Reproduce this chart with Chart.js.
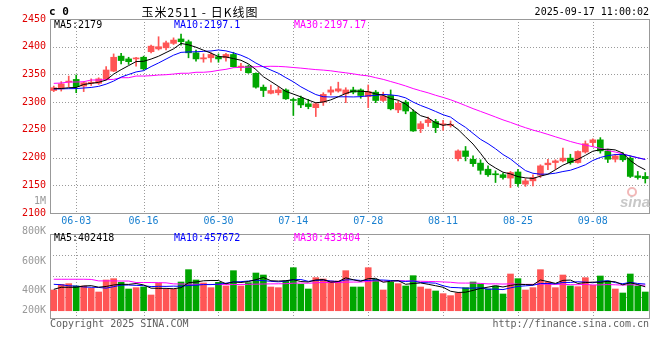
<!DOCTYPE html>
<html><head><meta charset="utf-8">
<script src="https://cdn.jsdelivr.net/npm/chart.js@4.4.1/dist/chart.umd.min.js"></script>
<style>
html,body{margin:0;padding:0;background:#fff;}
#wrap{position:relative;width:660px;height:360px;}
canvas{position:absolute;left:0;top:0;}
</style></head><body>
<div id="wrap"><canvas id="k" width="660" height="360"></canvas><canvas id="v" width="660" height="360"></canvas></div>
<script>
// ---------- data ----------
const dates = ['05-28','05-29','05-30','06-03','06-04','06-05','06-06','06-09','06-10','06-11','06-12','06-13',
 '06-16','06-17','06-18','06-19','06-20','06-23','06-24','06-25','06-26','06-27','06-30','07-01','07-02','07-03','07-04',
 '07-07','07-08','07-09','07-10','07-11','07-14','07-15','07-16','07-17','07-18','07-21','07-22','07-23','07-24','07-25',
 '07-28','07-29','07-30','07-31','08-01','08-04','08-05','08-06','08-07','08-08','08-11','08-12','08-13','08-14','08-15',
 '08-18','08-19','08-20','08-21','08-22','08-25','08-26','08-27','08-28','08-29','09-01','09-02','09-03','09-04','09-05',
 '09-08','09-09','09-10','09-11','09-12','09-15','09-16','09-17'];
const tickLabels = ['06-03','06-16','06-30','07-14','07-28','08-11','08-25','09-08'];

const open  = [2321,2324,2336,2341,2329,2334,2334,2341,2356,2383,2378,2378,2381,2391,2396,2398,2406,2414,2409,2389,
 2378,2380,2382,2380,2386,2363,2365,2352,2327,2316,2317,2322,2304,2307,2297,2290,2300,2318,2320,2315,
 2322,2322,2310,2318,2303,2312,2286,2300,2282,2252,2263,2265,2259,2258,2198,2212,2197,2190,2179,2170,
 2169,2163,2174,2152,2158,2168,2187,2191,2194,2199,2191,2210,2227,2232,2212,2197,2206,2199,2167,2166];
const high  = [2329,2337,2347,2349,2337,2342,2344,2364,2387,2388,2381,2381,2383,2403,2418,2410,2416,2423,2412,2394,
 2387,2389,2387,2388,2390,2370,2367,2353,2331,2331,2328,2324,2307,2311,2305,2299,2317,2328,2336,2326,
 2327,2324,2331,2321,2318,2322,2302,2303,2286,2265,2273,2269,2267,2266,2214,2220,2203,2196,2185,2176,
 2172,2175,2179,2162,2169,2187,2197,2196,2217,2206,2212,2230,2234,2236,2215,2206,2209,2203,2175,2173];
const low   = [2319,2320,2328,2317,2319,2330,2332,2340,2355,2369,2368,2365,2358,2389,2394,2394,2404,2403,2380,2374,
 2372,2372,2372,2374,2363,2357,2352,2325,2310,2315,2313,2305,2276,2290,2288,2274,2294,2313,2318,2299,
 2315,2307,2290,2299,2301,2286,2281,2279,2247,2245,2256,2245,2249,2255,2194,2194,2184,2170,2166,2155,
 2161,2146,2148,2148,2149,2164,2178,2179,2192,2188,2190,2208,2220,2208,2191,2192,2193,2164,2161,2154];
const close = [2326,2333,2338,2328,2335,2336,2342,2358,2381,2375,2373,2379,2360,2401,2400,2407,2412,2409,2389,2378,
 2380,2386,2378,2386,2364,2365,2353,2327,2321,2321,2322,2306,2303,2295,2292,2297,2314,2322,2324,2322,
 2318,2312,2319,2303,2311,2288,2298,2284,2248,2261,2268,2254,2261,2259,2212,2202,2189,2177,2169,2169,
 2164,2173,2153,2158,2164,2185,2190,2194,2199,2191,2211,2225,2232,2212,2197,2203,2196,2166,2164,2162];

const ma5  = [2324.3,2324.6,2326.0,2326.5,2331.9,2333.9,2335.8,2339.9,2350.6,2358.6,2365.9,2373.2,2373.7,2377.7,2382.8,2389.5,2396.1,2405.9,2403.4,2399.1,
 2393.7,2388.5,2382.2,2381.5,2378.6,2375.6,2369.0,2358.8,2345.8,2337.2,2328.6,2319.3,2314.6,2309.5,2303.8,2298.8,2300.3,2304.1,2309.7,2315.6,
 2320.0,2319.5,2318.9,2314.7,2312.4,2306.3,2303.5,2296.5,2285.6,2275.6,2271.6,2262.8,2258.1,2260.4,2250.7,2237.4,2224.4,2207.7,2189.7,2181.2,
 2173.6,2170.5,2165.6,2163.4,2162.3,2166.5,2169.9,2178.0,2186.3,2191.9,2197.0,2203.9,2211.5,2214.1,2215.2,2213.8,2208.0,2194.7,2185.0,2178.0];
const ma10 = [2323.8,2324.0,2324.3,2324.5,2325.5,2326.5,2328.5,2332.5,2338.0,2345.2,2349.9,2354.5,2356.8,2364.2,2370.7,2377.7,2384.7,2389.8,2390.6,2390.9,
 2391.6,2392.3,2394.1,2392.5,2388.9,2384.7,2378.8,2370.5,2363.7,2357.9,2352.1,2344.2,2336.7,2327.7,2320.5,2313.7,2309.8,2309.3,2309.6,2309.7,
 2309.4,2309.9,2311.5,2312.2,2314.0,2313.1,2311.5,2307.7,2300.1,2294.0,2288.9,2283.2,2277.3,2273.0,2263.1,2254.5,2243.6,2232.9,2225.1,2215.9,
 2205.5,2197.5,2186.7,2176.5,2171.7,2170.0,2170.2,2171.8,2174.8,2177.1,2181.8,2186.9,2194.8,2200.2,2203.5,2205.4,2205.9,2203.1,2199.6,2196.6];
const ma30 = [2333.9,2334.5,2336.3,2336.3,2336.9,2339.9,2339.9,2340.5,2341.1,2344.1,2344.1,2347.1,2347.1,2347.7,2348.9,2349.5,2350.7,2352.1,2352.1,2353.9,
 2353.9,2355.0,2357.4,2359.2,2362.2,2362.8,2363.3,2363.8,2364.3,2364.7,2364.5,2363.7,2362.5,2361.4,2360.0,2358.7,2357.8,2356.5,2354.6,2352.9,
 2351.0,2348.8,2347.4,2344.1,2341.1,2337.2,2333.4,2329.2,2324.5,2320.5,2316.8,2312.4,2308.5,2304.3,2299.2,2293.8,2288.3,2283.3,2278.3,2273.2,
 2268.0,2263.5,2258.5,2253.9,2249.6,2245.9,2241.8,2237.5,2233.3,2229.0,2225.4,2222.5,2219.6,2216.6,2212.8,2210.0,2206.6,2202.6,2199.8,2196.5];

const volume = [404700,442900,447400,431700,431700,415900,391200,472100,481000,456300,411400,420400,424900,371000,451900,409200,409200,458600,541700,472100,
 451900,420400,456300,431700,534900,431700,454100,519200,505700,424900,420400,465300,555100,442900,411400,487800,478800,465300,465300,534900,
 424900,424900,555100,476600,404700,456300,447400,431700,501200,424900,411400,398000,380000,366600,384500,420400,458600,445100,411400,431700,
 377800,512500,481000,404700,420400,541700,458600,420400,505700,431700,427200,487800,436100,499000,465300,411400,384500,512500,431700,391200];
const volMa5  = [409,423,423,423,431.7,433.9,423.6,428.5,438.4,443.3,442.4,448.2,438.8,416.8,415.9,415.5,413.2,420.0,454.1,458.2,
 466.7,468.9,468.5,446.5,459.0,455.0,461.7,474.3,489.1,467.1,464.9,467.1,474.3,461.7,459.0,472.5,475.2,457.2,461.7,486.4,
 473.8,463.1,481.0,483.3,457.2,463.5,468.0,443.3,448.3,452.3,443.3,433.4,423.1,396.2,388.1,389.9,402.0,415.0,424.0,433.4,
 424.9,435.7,442.9,441.5,439.3,472.1,461.3,449.2,469.4,471.6,448.7,454.6,457.7,456.4,463.1,459.9,439.3,454.5,441.1,426.3];
const volMa10 = [443,440,433,431,425,423,422,417,427,437.5,438.2,435.9,433.7,427.6,429.6,428.9,430.7,429.4,435.5,437.0,
 441.1,441.1,444.2,450.3,458.6,460.9,465.3,471.4,467.8,463.1,459.9,464.4,474.3,475.4,463.1,468.7,471.2,465.8,461.7,472.7,
 473.2,469.1,469.1,472.5,471.8,468.7,465.5,462.2,465.8,454.8,453.4,450.7,433.2,422.2,420.2,416.6,417.7,419.1,410.1,410.8,
 407.4,418.9,429.0,432.8,436.4,448.5,448.5,446.0,455.5,455.5,460.4,457.9,453.4,462.9,467.4,454.3,446.9,456.1,448.7,444.7];
const volMa30 = [477,477,477,477,477,476,466,466,466,465,465,455,455,455,454,453,446,445,444,443,
 442,442,441,441,441,442,443,444,445,445.9,446.4,447.1,450.7,451.1,450.4,452.8,455.7,455.5,455.0,457.6,
 458.1,458.2,462.6,466.1,464.5,466.1,467.3,466.4,465.1,463.5,462.2,461.4,458.9,456.7,451.7,451.3,451.5,449.0,445.9,446.1,
 444.7,446.2,443.8,442.5,442.8,444.6,443.9,442.4,443.8,440.3,440.4,442.5,438.5,439.3,441.3,439.8,437.7,440.4,438.1,437.0];
const volTickValues = [800000,600000,400000,200000];

const titleText = '玉米2511 - 日K线图';
const stampText = '2025-09-17 11:00:02';
const priceLegend = ['MA5:2179','MA10:2197.1','MA30:2197.17'];
const volLegend = ['MA5:402418','MA10:457672','MA30:433404'];

// ---------- style ----------
const MONO = '"DejaVu Sans Mono", monospace';
const UP = '#ff5555', DOWN = '#00a600';
const C5 = '#000000', C10 = '#0000ff', C30 = '#ff00ff';
const GRID = '#9a9a9a', FRAME = '#999999';
const PRICE_MIN = 2100, PRICE_MAX = 2450, PRICE_STEP = 50;
const VOL_MIN = 216000, VOL_MAX = 782000, VOL_BASE = 265000;

Chart.defaults.font.family = MONO;
Chart.defaults.font.size = 10;

const isUp = i => close[i] >= open[i];
const colorOf = ctx => isUp(ctx.dataIndex) ? UP : DOWN;
const k1000 = a => a.map(v => v * 1000);

function txt(ctx, s, x, y, color, font, align) {
  ctx.font = font; ctx.fillStyle = color; ctx.textAlign = align || 'left';
  ctx.textBaseline = 'middle'; ctx.fillText(s, x, y);
}
function vGrid(ctx, chart) {
  const a = chart.chartArea, x = chart.scales.x;
  tickLabels.forEach(l => {
    const px = Math.round(x.getPixelForValue(dates.indexOf(l))) + 0.5;
    ctx.beginPath(); ctx.moveTo(px, a.top); ctx.lineTo(px, a.bottom); ctx.stroke();
  });
}

const priceDeco = {
  id: 'priceDeco',
  beforeDatasetsDraw(chart) {
    const {ctx, chartArea: a, scales: {y}} = chart;
    ctx.save();
    ctx.strokeStyle = GRID; ctx.lineWidth = 1; ctx.setLineDash([1, 2]);
    y.ticks.forEach(t => {
      if (t.value <= y.min || t.value >= y.max) return;
      const py = Math.round(y.getPixelForValue(t.value)) + 0.5;
      ctx.beginPath(); ctx.moveTo(a.left, py); ctx.lineTo(a.right, py); ctx.stroke();
    });
    vGrid(ctx, chart);
    ctx.setLineDash([]); ctx.strokeStyle = FRAME;
    ctx.strokeRect(a.left + 0.5, a.top + 0.5, a.width, a.height);
    ctx.restore();
  },
  afterDraw(chart) {
    const {ctx, chartArea: a} = chart;
    ctx.save();
    txt(ctx, 'c 0', a.left - 1, 12, '#000', 'bold 11px ' + MONO);
    ctx.letterSpacing = '1px';
    txt(ctx, titleText, 200, 12, '#000', '12px "Noto Sans CJK SC", sans-serif', 'center');
    ctx.letterSpacing = '0px';
    txt(ctx, stampText, a.right, 12, '#000', '10px ' + MONO, 'right');
    txt(ctx, priceLegend[0], a.left + 4, a.top + 6, C5, '10px ' + MONO);
    txt(ctx, priceLegend[1], a.left + 124, a.top + 6, C10, '10px ' + MONO);
    txt(ctx, priceLegend[2], a.left + 244, a.top + 6, C30, '10px ' + MONO);
    txt(ctx, '1M', a.left - 4, a.bottom - 12, '#999', '10px ' + MONO, 'right');
    // sina watermark
    ctx.strokeStyle = '#f2b8b8'; ctx.lineWidth = 2;
    ctx.beginPath(); ctx.arc(a.right - 17, a.bottom - 21, 4, 0, Math.PI * 2); ctx.stroke();
    ctx.font = 'italic bold 15px "Liberation Sans", sans-serif'; ctx.fillStyle = '#c8c8c8';
    ctx.textAlign = 'right'; ctx.textBaseline = 'alphabetic';
    ctx.fillText('sina', a.right + 1, a.bottom - 6);
    ctx.restore();
  }
};

const volDeco = {
  id: 'volDeco',
  beforeDatasetsDraw(chart) {
    const {ctx, chartArea: a} = chart;
    ctx.save();
    ctx.strokeStyle = GRID; ctx.lineWidth = 1; ctx.setLineDash([1, 2]);
    for (let q = 1; q < 4; q++) {
      const py = Math.round(a.top + a.height * q / 4) + 0.5;
      ctx.beginPath(); ctx.moveTo(a.left, py); ctx.lineTo(a.right, py); ctx.stroke();
    }
    vGrid(ctx, chart);
    ctx.setLineDash([]); ctx.strokeStyle = FRAME;
    ctx.strokeRect(a.left + 0.5, a.top + 0.5, a.width, a.height);
    ctx.restore();
  },
  afterDraw(chart) {
    const {ctx, chartArea: a, scales: {y}} = chart;
    ctx.save();
    const basePx = y.getPixelForValue(VOL_BASE);
    volTickValues.forEach(v => {
      const py = Math.min(y.getPixelForValue(v), basePx);
      txt(ctx, (v / 1000) + 'K', a.left - 4, py, '#999', '10px ' + MONO, 'right');
    });
    txt(ctx, volLegend[0], a.left + 4, a.top + 4.5, C5, '10px ' + MONO);
    txt(ctx, volLegend[1], a.left + 124, a.top + 4.5, C10, '10px ' + MONO);
    txt(ctx, volLegend[2], a.left + 244, a.top + 4.5, C30, '10px ' + MONO);
    txt(ctx, 'Copyright 2025 SINA.COM', a.left, a.bottom + 6, '#606060', '10px ' + MONO);
    txt(ctx, 'http://finance.sina.com.cn', a.right, a.bottom + 6, '#606060', '10px ' + MONO, 'right');
    ctx.restore();
  }
};

const lineDs = (data, color) => ({type: 'line', data, borderColor: color, borderWidth: 1,
  pointRadius: 0, tension: 0, fill: false, order: 0});

new Chart(document.getElementById('k'), {
  type: 'bar',
  data: {
    labels: dates,
    datasets: [
      lineDs(ma5, C5), lineDs(ma10, C10), lineDs(ma30, C30),
      {data: open.map((o, i) => [o, close[i]]), backgroundColor: colorOf, barThickness: 6,
       minBarLength: 1, grouped: false, order: 1},
      {data: low.map((l, i) => [l, high[i]]), backgroundColor: colorOf, barThickness: 1,
       grouped: false, order: 2}
    ]
  },
  options: {
    responsive: false, animation: false, devicePixelRatio: 1,
    layout: {padding: {top: 19, right: 11, left: 0, bottom: 128}},
    plugins: {legend: {display: false}, tooltip: {enabled: false}},
    scales: {
      x: {type: 'category', offset: true,
          grid: {display: false, drawTicks: false}, border: {display: false},
          ticks: {autoSkip: false, maxRotation: 0, padding: 2, color: '#1a80d0', font: {size: 10}},
          afterBuildTicks: s => { s.ticks = s.ticks.filter(t => tickLabels.includes(dates[t.value])); },
          afterFit: s => { s.height = 19; }},
      y: {min: PRICE_MIN, max: PRICE_MAX,
          grid: {display: false, drawTicks: false}, border: {display: false},
          ticks: {stepSize: PRICE_STEP, padding: 4, color: '#e00000', font: {size: 10}, callback: v => String(v)},
          afterFit: s => { s.width = 50; }}
    }
  },
  plugins: [priceDeco]
});

new Chart(document.getElementById('v'), {
  type: 'bar',
  data: {
    labels: dates,
    datasets: [
      lineDs(k1000(volMa5), C5), lineDs(k1000(volMa10), C10), lineDs(k1000(volMa30), C30),
      {data: volume, base: VOL_BASE, backgroundColor: colorOf, barThickness: 6, grouped: false, order: 1}
    ]
  },
  options: {
    responsive: false, animation: false, devicePixelRatio: 1,
    layout: {padding: {top: 234, right: 11, left: 50, bottom: 42}},
    plugins: {legend: {display: false}, tooltip: {enabled: false}},
    scales: {
      x: {type: 'category', offset: true, display: false},
      y: {min: VOL_MIN, max: VOL_MAX, display: false}
    }
  },
  plugins: [volDeco]
});
</script>
</body></html>
